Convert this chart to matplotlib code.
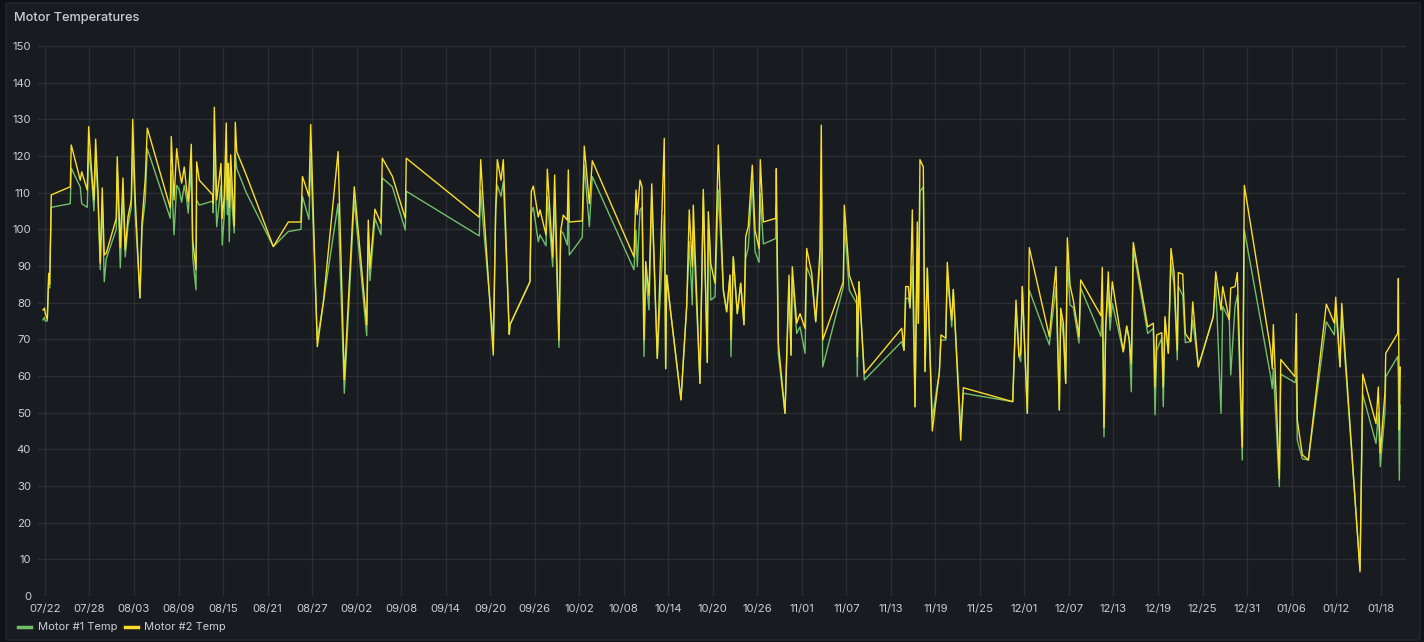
import matplotlib
matplotlib.use("Agg")
import matplotlib.pyplot as plt
from matplotlib.patches import FancyBboxPatch
from matplotlib.lines import Line2D
import datetime as dt

plt.rcParams['font.family'] = ['Inter', 'DejaVu Sans']

title = "Motor Temperatures"
series_names = ["Motor #1 Temp", "Motor #2 Temp"]
start_date = "2023-07-22"

# elapsed days since start_date for each sample
days = [-0.27, -0.07, 0.04, 0.31, 0.50, 0.63, 0.85, 3.41, 3.54, 4.76, 4.95, 5.70, 5.89, 6.24, 6.60, 6.83,
        7.14, 7.45, 7.72, 7.99, 8.26, 9.61, 9.74, 10.15, 10.51, 10.82, 11.19, 11.63, 11.82, 12.17, 12.80,
        13.07, 13.52, 13.79, 16.89, 17.02, 17.39, 17.75, 18.06, 18.42, 18.77, 19.10, 19.31, 19.72, 19.91,
        20.35, 20.44, 20.80, 22.60, 22.68, 22.82, 23.14, 23.72, 23.89, 24.16, 24.43, 24.57, 24.70, 24.84,
        25.03, 25.27, 25.51, 25.65, 25.84, 27.13, 30.77, 32.79, 34.50, 34.70, 35.58, 35.81, 36.70, 37.51,
        39.50, 40.34, 41.68, 43.36, 43.57, 43.80, 44.47, 45.28, 45.46, 46.81, 48.56, 48.69, 58.53, 58.72,
        58.99, 60.42, 60.74, 60.96, 61.46, 61.77, 62.57, 62.67, 65.36, 65.54, 65.81, 66.48, 66.71, 67.52,
        67.70, 68.42, 68.69, 69.27, 69.50, 69.85, 70.39, 70.53, 70.66, 72.41, 72.68, 73.36, 73.76, 79.38,
        79.65, 79.82, 80.19, 80.46, 80.73, 80.96, 81.40, 81.77, 82.52, 83.46, 83.65, 83.79, 84.23, 85.71,
        86.48, 86.83, 87.24, 87.37, 88.27, 88.72, 89.26, 89.39, 89.62, 89.72, 90.30, 90.74, 91.42, 91.87,
        92.32, 92.45, 92.76, 93.30, 93.76, 94.20, 94.43, 94.78, 95.32, 95.69, 96.23, 96.40, 96.81, 98.48,
        98.56, 98.83, 99.73, 100.27, 100.54, 100.71, 101.31, 101.75, 102.43, 102.65, 103.33, 103.87,
        104.45, 104.62, 104.81, 107.59, 107.72, 108.40, 109.39, 109.47, 109.70, 110.42, 115.46, 115.77,
        116.00, 116.35, 116.58, 116.89, 117.25, 117.56, 117.70, 117.92, 118.37, 118.60, 118.91, 119.58,
        120.53, 120.75, 121.39, 121.60, 121.97, 122.20, 122.41, 123.41, 123.76, 130.42, 130.86, 131.27,
        131.50, 131.71, 132.39, 132.65, 135.35, 136.25, 136.70, 136.89, 137.24, 137.56, 137.78, 138.14,
        138.58, 139.35, 139.58, 142.32, 142.49, 142.72, 142.95, 143.30, 143.53, 143.84, 145.32, 145.78,
        146.13, 146.40, 146.67, 148.61, 149.37, 149.60, 149.82, 150.50, 150.71, 150.94, 151.39, 151.75,
        152.16, 152.60, 152.74, 153.33, 153.68, 154.41, 154.68, 155.43, 157.45, 157.78, 158.49, 158.72,
        159.61, 159.80, 160.38, 160.69, 161.36, 161.63, 165.19, 165.40, 165.54, 166.35, 166.54, 168.46,
        168.64, 168.77, 169.45, 170.26, 172.68, 173.76, 173.95, 174.53, 174.76, 177.22, 177.59, 179.38,
        179.69, 179.96, 180.59, 180.69, 182.30, 182.39, 182.52, 182.65]

motor1 = [75.3, 76, 75, 75, 86, 84, 106, 107, 116.7, 111.5, 107, 106, 122, 115, 105, 120,
          108, 89, 108, 85.7, 92, 100, 117, 89.5, 110, 92.5, 101, 106, 123, 104, 81.3,
          100, 108, 122, 103, 116, 98.5, 112, 111, 107.4, 112, 108, 104.4, 117, 92.5,
          83.5, 108, 106.6, 107.7, 104.5, 124.4, 100.7, 112, 95.7, 104, 120, 104, 112, 96.6,
          114, 105, 99, 120.7, 116.6, 110, 95.3, 99.4, 100, 109, 102.7, 119.8, 70, 80,
          107, 55.3, 108, 71, 99, 86, 103, 98.5, 114, 111.6, 99.8, 110.4, 98.2, 110.7,
          103, 69.8, 105, 112, 109, 113, 71.4, 74, 85.7, 104.5, 106, 96.6, 98.5, 95.5,
          109, 89.8, 108, 67.8, 99.6, 98.9, 95.7, 108, 93, 97.8, 117.5, 100.7, 114.4, 89,
          99.8, 89.8, 105.3, 106, 65.3, 88, 78, 109, 64.8, 104, 62, 87.5, 79, 53.5,
          79, 96.6, 79.4, 99.8, 58, 109, 63.7, 99.8, 93.5, 80.7, 81.6, 110.7, 83.4, 77.5,
          87.5, 65.3, 92.5, 77, 85.3, 74, 92, 95, 113, 93.9, 91, 109.8, 96, 97.5,
          106.2, 66, 49.8, 84.4, 65.7, 87, 71.6, 73.4, 66.2, 89.8, 86.2, 74.8,
          90.7, 114.4, 62.5, 84.3, 101.6, 83.4, 79.8, 59.8, 85.7, 58.9, 69.4, 67,
          81.2, 81.2, 79, 90, 51.6, 95, 74.4, 110.3, 111.6, 61.2, 89.4, 48.5,
          61, 69.8, 69.8, 86.6, 79.8, 73.4, 83.6, 46, 55.3, 53, 78, 65.3,
          63.9, 84.4, 49.8, 83.4, 68.5, 84.4, 50.7, 77, 70.8, 58, 91.6, 79.4,
          78.7, 69, 84, 70.8, 80, 43.4, 73.4, 83.4, 72.5, 79.8, 66.6, 73.6,
          69.8, 55.7, 94.8, 71.6, 73, 49.4, 67, 70.3, 51.6, 75.3, 66.2, 90.7,
          85, 64.4, 84.4, 82, 69.1, 69.4, 75.3, 62.5, 76.2, 85.3, 49.8, 79,
          75.3, 60.3, 79, 82, 37.1, 99.8, 59.8, 56.6, 62, 29.8, 60.5, 58.2,
          60, 42.5, 37.4, 37.1, 74.8, 71.2, 79, 62.5, 77, 7.3, 55, 41.6,
          50, 35.3, 50.3, 59.8, 65.3, 60, 31.6, 52]

motor2 = [78, 78.5, 77, 75.5, 88, 85, 109.4, 111.6, 123, 113.4, 115.7, 110.7, 128, 117, 108, 124.6,
          110.7, 90.8, 111.3, 93, 93.5, 103, 119.8, 95, 114, 94.4, 103.4, 108, 130, 108, 81.3,
          101.7, 114, 127.6, 105.8, 125.3, 108, 122, 116.7, 112.6, 117, 110.7, 107.5, 123.2, 97,
          89, 118.4, 113.4, 109.4, 107, 133.3, 108, 118, 103, 109, 129, 108, 118, 106,
          120.3, 110, 101, 129.2, 121.2, 114.8, 95.3, 102, 102, 114.4, 109, 128.6, 68, 80,
          121.2, 59, 111.6, 74, 102.5, 89.5, 105.5, 101.6, 119.4, 114.5, 103, 119.4, 103.3, 119,
          109.8, 65.7, 105.3, 119, 113.4, 119, 71.4, 74, 85.7, 110.3, 111.8, 103.4, 105.3, 98.5,
          116.4, 92.5, 114.8, 69.8, 99.6, 103.9, 102.5, 116.2, 102, 102.3, 122.7, 107, 118.7, 92.5,
          110.7, 104, 113.4, 111.6, 69.8, 91.2, 82, 112.4, 64.8, 124.8, 62, 87.5, 79, 53.5,
          79, 105.3, 89.8, 106.6, 58, 110.9, 63.7, 104.8, 96, 90.7, 85.3, 123, 83.4, 77.5,
          87.5, 70, 92.5, 77, 85.3, 74, 98, 100.7, 117.5, 99.8, 94.8, 119, 102, 103,
          116.6, 69, 49.8, 87.5, 65.7, 89.8, 74.4, 77, 73, 94.8, 88, 74.8,
          94.4, 128.4, 69.8, 85.7, 106.6, 87.5, 81.6, 65.3, 85.7, 60.7, 73, 67,
          84.4, 84.4, 78.5, 105.3, 51.6, 102, 74.4, 119, 117, 61.2, 89.4, 45,
          61, 71.2, 70.3, 91, 79.8, 75.3, 83.6, 42.5, 56.8, 53, 80.7, 65.3,
          66.2, 84.4, 49.8, 95, 70.8, 89.8, 50.7, 78.5, 74.4, 58, 97.7, 84.8,
          80.7, 70.8, 86.2, 76.4, 89.6, 46, 73.4, 88.4, 76.2, 85.7, 66.6, 73.6,
          69.8, 63.4, 96.4, 73.4, 74.4, 57, 71.2, 71.8, 57, 76.2, 66.2, 94.8,
          88, 67, 88.2, 87.8, 71.6, 69.4, 80.2, 62.5, 76.2, 88.4, 78, 84.4,
          75.3, 84, 84.4, 88.2, 40.7, 112, 67, 62, 74, 32, 64.5, 59.8,
          77, 48, 38.5, 37.1, 79.6, 74.4, 81.5, 62.5, 79.8, 6.6, 60.5, 47,
          57, 39, 55.7, 66.2, 71.6, 86.6, 45.3, 62.4]

y_ticks = [0, 10, 20, 30, 40, 50, 60, 70, 80, 90, 100, 110, 120, 130, 140, 150]
tick_step_days = 6
n_xticks = 31

W, H = 1424, 642
BG_OUT = "#111217"
BG_PANEL = "#181b1f"
TXT = "#ccccdc"
GRID = "#2c2e33"
GREEN = "#73bf69"
YELLOW = "#fade2a"

fig = plt.figure(figsize=(W / 100, H / 100), dpi=100, facecolor=BG_OUT)

panel = FancyBboxPatch((6 / W, 2 / H), (1414 / W), (637 / H),
                       boxstyle="round,pad=0,rounding_size=0.002",
                       transform=fig.transFigure, facecolor=BG_PANEL,
                       edgecolor="#26282d", linewidth=1, zorder=-10)
fig.patches.append(panel)

ax_l, ax_r, ax_t, ax_b = 38, 1406, 46, 596
ax = fig.add_axes([ax_l / W, 1 - ax_b / H, (ax_r - ax_l) / W, (ax_b - ax_t) / H])
ax.set_zorder(5)
ax.set_facecolor(BG_PANEL)

ax.plot(days, motor1, color=GREEN, lw=1.0, zorder=3)
ax.plot(days, motor2, color=YELLOW, lw=1.0, zorder=4)

ax.set_ylim(0, 150)
ax.set_xlim(-0.94, 183.42)
ax.set_yticks(y_ticks)
ax.set_yticklabels([str(v) for v in y_ticks])

sd = dt.datetime.strptime(start_date, "%Y-%m-%d")
xt = [i * tick_step_days for i in range(n_xticks)]
ax.set_xticks(xt)
ax.set_xticklabels([(sd + dt.timedelta(days=d)).strftime("%m/%d") for d in xt])

ax.grid(True, color=GRID, lw=1.0, zorder=1)
ax.set_axisbelow(True)
ax.tick_params(axis='both', length=0, colors=TXT, labelsize=8.2)
ax.tick_params(axis='y', pad=5)
ax.tick_params(axis='x', pad=6)
for s in ax.spines.values():
    s.set_visible(False)

fig.text(14 / W, 1 - 18 / H, title, color=TXT, fontsize=9.2, fontweight='medium',
         va='center', ha='left')

# legend
ly = 1 - 627 / H
fig.add_artist(Line2D([18 / W, 31 / W], [ly, ly], color=GREEN, lw=2.5, transform=fig.transFigure))
fig.text(38 / W, ly, series_names[0], color=TXT, fontsize=8, va='center', ha='left')
fig.add_artist(Line2D([125 / W, 138 / W], [ly, ly], color=YELLOW, lw=2.5, transform=fig.transFigure))
fig.text(144 / W, ly, series_names[1], color=TXT, fontsize=8, va='center', ha='left')

fig.savefig("out.png", dpi=100, facecolor=BG_OUT)
